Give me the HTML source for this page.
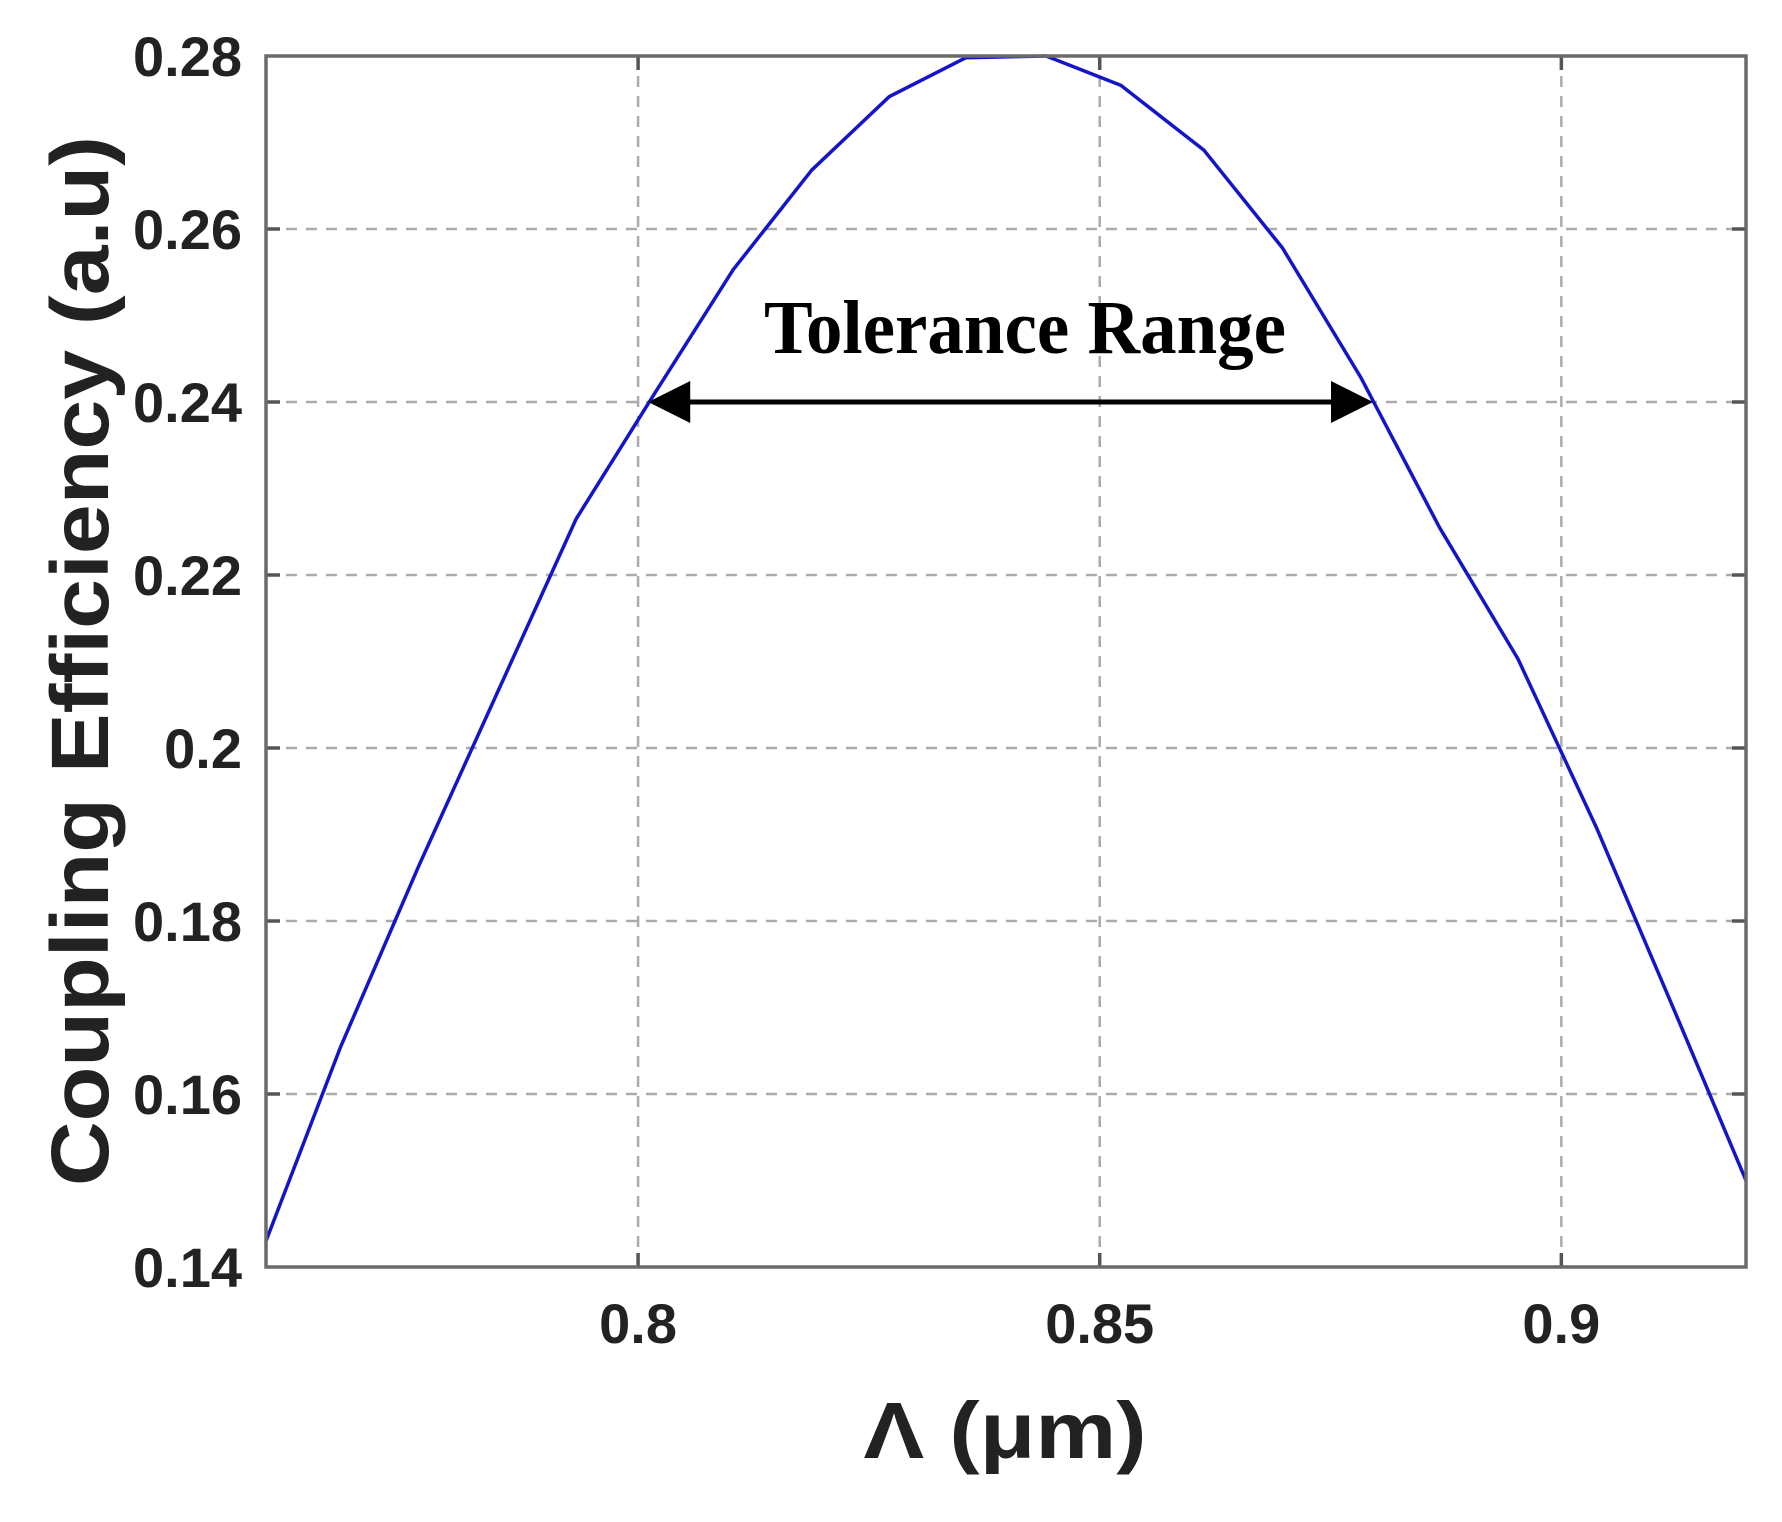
<!DOCTYPE html>
<html><head><meta charset="utf-8"><style>
html,body{margin:0;padding:0;background:#fff;}
svg{display:block;}
</style></head><body>
<svg id="chart" width="1782" height="1522" viewBox="0 0 1782 1522" xmlns="http://www.w3.org/2000/svg">
<rect x="0" y="0" width="1782" height="1522" fill="#fff"/>
<g id="grid"></g>
<g id="ticks"></g>
<g id="series"></g>
<rect x="266" y="56" width="1480" height="1211" fill="none" stroke="#6a6a6a" stroke-width="3.5"/>
<g id="labels"></g>
<g id="annot"></g>
<text x="1005" y="1458" text-anchor="middle" font-family="Liberation Sans, sans-serif" font-weight="bold" font-size="80" fill="#222" textLength="283" lengthAdjust="spacingAndGlyphs">Λ (μm)</text>
<text transform="translate(108,661) rotate(-90)" text-anchor="middle" font-family="Liberation Sans, sans-serif" font-weight="bold" font-size="82" fill="#222" textLength="1050" lengthAdjust="spacingAndGlyphs">Coupling Efficiency (a.u)</text>
</svg>
<script>
const xs = [0.7597,0.7678,0.7763,0.7848,0.7933,0.8018,0.8103,0.8188,0.8272,0.8355,0.8442,0.8523,0.8613,0.8698,0.8783,0.8868,0.8953,0.9038,0.9123,0.92];
const ys = [0.143,0.1655,0.1865,0.2065,0.2265,0.241,0.2553,0.2668,0.2753,0.2798,0.2800,0.2766,0.2691,0.2578,0.2428,0.2255,0.2103,0.1908,0.1695,0.150];
const xTicks = [0.8,0.85,0.9];
const xTickLabels = ["0.8","0.85","0.9"];
const yTicks = [0.14,0.16,0.18,0.2,0.22,0.24,0.26,0.28];
const yTickLabels = ["0.14","0.16","0.18","0.2","0.22","0.24","0.26","0.28"];
const tolerance = [0.8011,0.8796];
const toleranceLevel = [0.24];

const X0=266,X1=1746,Y0=56,Y1=1267,XMIN=0.7597,XMAX=0.92,YMIN=0.14,YMAX=0.28;
function sx(v){return X0+(v-XMIN)/(XMAX-XMIN)*(X1-X0);}
function sy(v){return Y1-(v-YMIN)/(YMAX-YMIN)*(Y1-Y0);}
const NS="http://www.w3.org/2000/svg";
function mk(tag,attrs,parent){const e=document.createElementNS(NS,tag);for(const k in attrs)e.setAttribute(k,attrs[k]);parent.appendChild(e);return e;}
const grid=document.getElementById('grid'),ticks=document.getElementById('ticks'),labels=document.getElementById('labels');
xTicks.forEach((v,i)=>{
  const l=mk('line',{x1:sx(v),x2:sx(v),y1:Y0,y2:Y1,stroke:'#ababab','stroke-width':2.5,'stroke-dasharray':'11,9'},grid);
  
  
  const t=mk('line',{x1:sx(v),x2:sx(v),y1:Y1,y2:Y1-14,stroke:'#555','stroke-width':3.5},ticks);
  
  
  const t2=mk('line',{x1:sx(v),x2:sx(v),y1:Y0,y2:Y0+14,stroke:'#555','stroke-width':3.5},ticks);
  
  
  const tx=mk('text',{x:sx(v),y:1343,'text-anchor':'middle','font-family':'Liberation Sans, sans-serif','font-weight':'bold','font-size':56,fill:'#222'},labels);
  tx.textContent=xTickLabels[i];
  
  
});
yTicks.forEach((v,i)=>{
  if(v>YMIN&&v<YMAX){
    const l=mk('line',{x1:X0,x2:X1,y1:sy(v),y2:sy(v),stroke:'#ababab','stroke-width':2.5,'stroke-dasharray':'11,9'},grid);
    
    
    const t=mk('line',{x1:X0,x2:X0+14,y1:sy(v),y2:sy(v),stroke:'#555','stroke-width':3.5},ticks);
    
    
    const t2=mk('line',{x1:X1,x2:X1-14,y1:sy(v),y2:sy(v),stroke:'#555','stroke-width':3.5},ticks);
    
    
  }
  const tx=mk('text',{x:242,y:sy(v)+20,'text-anchor':'end','font-family':'Liberation Sans, sans-serif','font-weight':'bold','font-size':56,fill:'#222'},labels);
  tx.textContent=yTickLabels[i];
  
  
});
const series=document.getElementById('series');
const p=mk('polyline',{points:xs.map((x,i)=>sx(x)+','+sy(ys[i])).join(' '),fill:'none',stroke:'#1515c8','stroke-width':3.5,'stroke-linejoin':'round'},series);


const annot=document.getElementById('annot');
const ax1=sx(tolerance[0]),ax2=sx(tolerance[1]),ay=sy(toleranceLevel[0]);
const al=mk('line',{x1:ax1+30,x2:ax2-30,y1:ay,y2:ay,stroke:'#000','stroke-width':5},annot);


const h1=mk('polygon',{points:`${ax1},${ay} ${ax1+42},${ay-21} ${ax1+42},${ay+21}`,fill:'#000'},annot);


const h2=mk('polygon',{points:`${ax2},${ay} ${ax2-42},${ay-21} ${ax2-42},${ay+21}`,fill:'#000'},annot);


const tt=mk('text',{x:1025,y:353,'text-anchor':'middle','font-family':'Liberation Serif, serif','font-weight':'bold','font-size':76,fill:'#000',textLength:522,lengthAdjust:'spacingAndGlyphs'},annot);
tt.textContent='Tolerance Range';


</script>
</body></html>
